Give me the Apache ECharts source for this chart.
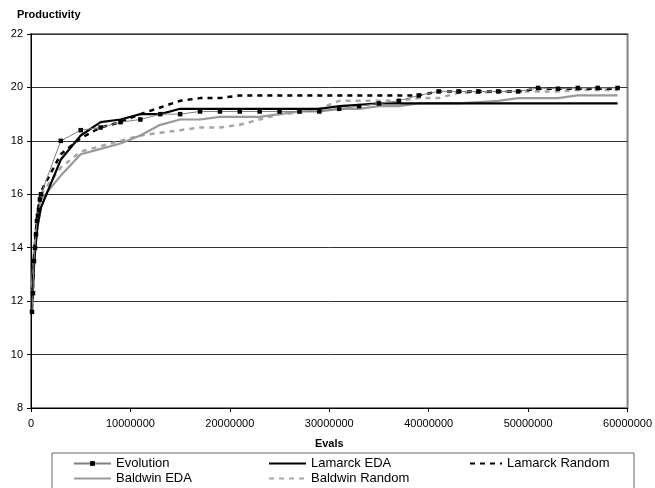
<!DOCTYPE html>
<html><head><meta charset="utf-8">
<script src="https://cdn.jsdelivr.net/npm/echarts@6/dist/echarts.min.js"></script>
<style>html,body{margin:0;padding:0;background:#fff}#c{width:655px;height:488px}</style>
</head><body><div id="c"></div>
<script>
const evals = [100000,200000,300000,400000,500000,600000,700000,800000,900000,1000000,
  3000000,5000000,7000000,9000000,11000000,13000000,15000000,17000000,19000000,21000000,
  23000000,25000000,27000000,29000000,31000000,33000000,35000000,37000000,39000000,41000000,
  43000000,45000000,47000000,49000000,51000000,53000000,55000000,57000000,59000000];
const evolution = [11.6,12.3,13.5,14.0,14.5,15.0,15.2,15.4,15.8,16.0,
  18.0,18.4,18.5,18.7,18.8,19.0,19.0,19.1,19.1,19.1,
  19.1,19.1,19.1,19.1,19.2,19.3,19.4,19.5,19.7,19.85,
  19.85,19.85,19.85,19.85,19.98,19.95,19.98,19.98,19.98];
const lamarckEDA = [11.8,12.5,13.3,13.8,14.2,14.6,14.9,15.1,15.3,15.5,
  17.3,18.2,18.7,18.8,19.0,19.0,19.2,19.2,19.2,19.2,
  19.2,19.2,19.2,19.2,19.3,19.35,19.4,19.4,19.4,19.4,
  19.4,19.4,19.4,19.4,19.4,19.4,19.4,19.4,19.4];
const lamarckRandom = [11.7,12.5,13.6,14.2,14.7,15.1,15.4,15.7,15.9,16.1,
  17.5,18.1,18.5,18.7,19.0,19.25,19.5,19.6,19.6,19.7,
  19.7,19.7,19.7,19.7,19.7,19.7,19.7,19.7,19.7,19.85,
  19.85,19.85,19.85,19.85,19.95,19.95,19.95,19.95,19.95];
const baldwinEDA = [12.5,13.2,13.9,14.3,14.7,15.0,15.3,15.5,15.7,15.8,
  16.7,17.5,17.7,17.9,18.2,18.6,18.8,18.8,18.9,18.9,
  18.9,19.0,19.1,19.1,19.2,19.2,19.3,19.3,19.4,19.4,
  19.4,19.45,19.5,19.6,19.6,19.6,19.7,19.7,19.7];
const baldwinRandom = [11.9,12.6,13.5,14.1,14.6,15.0,15.3,15.6,15.8,16.0,
  17.0,17.6,17.8,18.0,18.2,18.3,18.4,18.5,18.5,18.6,
  18.8,19.0,19.05,19.2,19.5,19.5,19.5,19.5,19.6,19.6,
  19.8,19.8,19.85,19.85,19.85,19.85,19.9,19.9,19.9];
const seriesNames = ['Evolution','Lamarck EDA','Lamarck Random','Baldwin EDA','Baldwin Random'];

const pairs = arr => evals.map((x,i)=>[x,arr[i]]);
const FONT = 'Liberation Sans';
const chart = echarts.init(document.getElementById('c'));
const legendText = {fontFamily:FONT,fontSize:13,color:'#000'};
function leg(name,left,top,w,showSym){
  return {data:[{name:name,itemStyle: showSym ? {} : {opacity:0}}],left:left,top:top,itemWidth:w,itemHeight:showSym?6:10,
    itemGap:0,padding:0,textStyle:legendText,selectedMode:false};
}
chart.setOption({
  animation:false,
  textStyle:{fontFamily:FONT},
  grid:{left:31,right:23,top:34,bottom:80,show:true,borderColor:'#808080',borderWidth:2},
  xAxis:{type:'value',min:0,max:60000000,interval:10000000,
    name:'Evals',nameLocation:'middle',nameGap:30,
    nameTextStyle:{fontFamily:FONT,fontSize:11,fontWeight:'bold',color:'#000'},
    axisLine:{onZero:false,lineStyle:{color:'#000',width:1}},
    axisTick:{show:true,length:4,lineStyle:{color:'#000'}},
    axisLabel:{fontFamily:FONT,fontSize:11,color:'#000',margin:10,formatter:v=>String(v)},
    splitLine:{show:false}},
  yAxis:{type:'value',min:8,max:22,interval:2,
    name:'Productivity',nameLocation:'end',nameGap:14,
    nameTextStyle:{fontFamily:FONT,fontSize:11,fontWeight:'bold',color:'#000',align:'left',padding:[0,0,0,-14]},
    axisLine:{show:true,lineStyle:{color:'#000',width:1}},
    axisTick:{show:true,length:4,lineStyle:{color:'#000'}},
    axisLabel:{fontFamily:FONT,fontSize:11,color:'#000',margin:8},
    splitLine:{show:true,lineStyle:{color:'#333',width:1}}},
  legend:[
    leg('Evolution',73,457,37,true),
    leg('Lamarck EDA',268,457,37,false),
    leg('Lamarck Random',469,457,32,false),
    leg('Baldwin EDA',73,472,37,false),
    leg('Baldwin Random',268,472,37,false)
  ],
  graphic:[{type:'rect',shape:{x:52,y:453,width:582,height:50},
    style:{fill:'none',stroke:'#666',lineWidth:1},silent:true,z:-1}],
  series:[
    {name:seriesNames[0],type:'line',data:pairs(evolution),symbol:'rect',symbolSize:4.5,
      itemStyle:{color:'#000'},lineStyle:{color:'#808080',width:1},z:5},
    {name:seriesNames[1],type:'line',data:pairs(lamarckEDA),symbol:'none',
      itemStyle:{color:'#000'},lineStyle:{color:'#000',width:2.2},z:4},
    {name:seriesNames[2],type:'line',data:pairs(lamarckRandom),symbol:'none',
      itemStyle:{color:'#000'},lineStyle:{color:'#000',width:2.5,type:[5,5]},z:3},
    {name:seriesNames[3],type:'line',data:pairs(baldwinEDA),symbol:'none',
      itemStyle:{color:'#999'},lineStyle:{color:'#999',width:2.2},z:2},
    {name:seriesNames[4],type:'line',data:pairs(baldwinRandom),symbol:'none',
      itemStyle:{color:'#a6a6a6'},lineStyle:{color:'#a6a6a6',width:2.5,type:[5,5]},z:1}
  ]
});
</script></body></html>
